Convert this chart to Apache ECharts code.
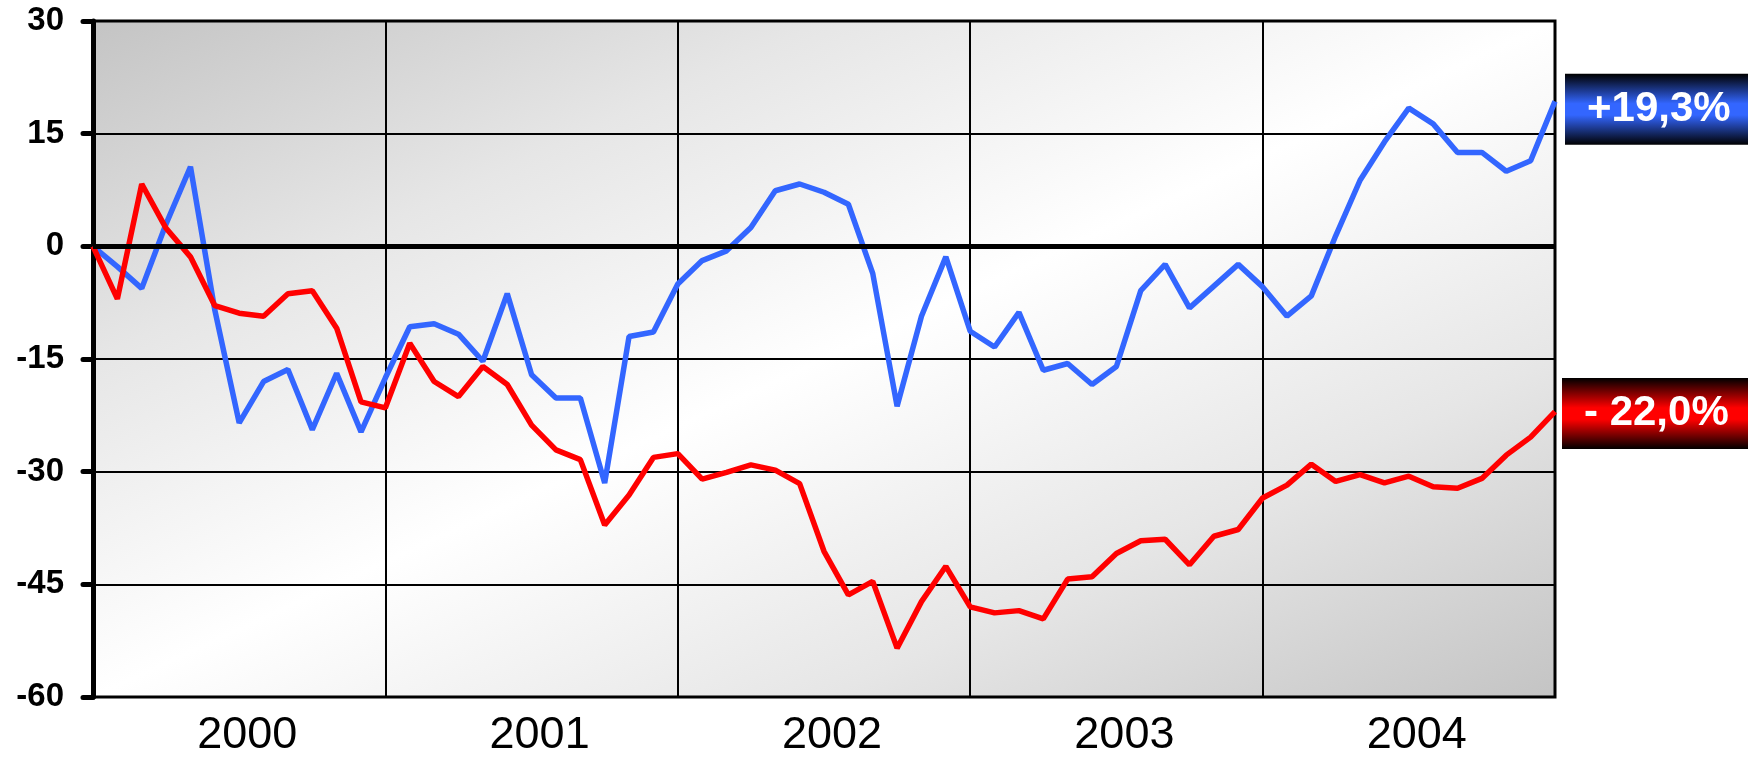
<!DOCTYPE html>
<html>
<head>
<meta charset="utf-8">
<script src="https://cdn.jsdelivr.net/npm/echarts@6/dist/echarts.min.js"></script>
<style>
  html, body { margin: 0; padding: 0; background: #ffffff; }
  #chart { width: 1748px; height: 761px; }
</style>
</head>
<body>
<div id="chart"></div>
<script>
// Monthly points, Dec 1999 = 0 (cumulative % change)
const months = [
  '1999-12',
  '2000-01','2000-02','2000-03','2000-04','2000-05','2000-06','2000-07','2000-08','2000-09','2000-10','2000-11','2000-12',
  '2001-01','2001-02','2001-03','2001-04','2001-05','2001-06','2001-07','2001-08','2001-09','2001-10','2001-11','2001-12',
  '2002-01','2002-02','2002-03','2002-04','2002-05','2002-06','2002-07','2002-08','2002-09','2002-10','2002-11','2002-12',
  '2003-01','2003-02','2003-03','2003-04','2003-05','2003-06','2003-07','2003-08','2003-09','2003-10','2003-11','2003-12',
  '2004-01','2004-02','2004-03','2004-04','2004-05','2004-06','2004-07','2004-08','2004-09','2004-10','2004-11','2004-12'
];

const yearLabels = ['2000', '2001', '2002', '2003', '2004'];

const blueSeries = [
  0, -2.7, -5.6, 3.0, 10.6, -8.5, -23.5, -18.0, -16.4, -24.4, -16.9, -24.7, -17.5,
  -10.7, -10.3, -11.7, -15.3, -6.3, -17.1, -20.2, -20.2, -31.5, -12.0, -11.4, -5.0,
  -1.9, -0.6, 2.5, 7.4, 8.3, 7.2, 5.6, -3.6, -21.3, -9.3, -1.4, -11.3,
  -13.4, -8.8, -16.5, -15.6, -18.4, -16.0, -5.9, -2.4, -8.2, -5.3, -2.4, -5.4,
  -9.3, -6.6, 1.4, 8.8, 13.9, 18.4, 16.3, 12.5, 12.5, 10.0, 11.4, 19.3
];

const redSeries = [
  0, -7.0, 8.3, 2.4, -1.4, -7.9, -8.9, -9.3, -6.3, -5.9, -10.9, -20.7, -21.5,
  -12.9, -18.0, -20.0, -16.0, -18.4, -23.8, -27.1, -28.4, -37.1, -33.1, -28.1, -27.6,
  -31.0, -30.1, -29.1, -29.8, -31.6, -40.6, -46.4, -44.6, -53.5, -47.3, -42.6, -48.0,
  -48.8, -48.5, -49.6, -44.3, -44.0, -40.9, -39.2, -39.0, -42.4, -38.6, -37.7, -33.5,
  -31.8, -29.0, -31.3, -30.4, -31.5, -30.6, -32.0, -32.2, -30.9, -27.8, -25.4, -22.0
];

const chart = echarts.init(document.getElementById('chart'), null, { renderer: 'canvas' });

// plot box (pixels)
const G = { left: 93, right: 193, top: 21, bottom: 64 };
const W = 1748, H = 761;
const px0 = G.left, px1 = W - G.right, py0 = G.top, py1 = H - G.bottom;

// diagonal grey -> white -> grey shading, white band along the anti-diagonal
function plotShade() {
  const cx = (px0 + px1) / 2, cy = (py0 + py1) / 2;
  const w = px1 - px0, h = py1 - py0;
  const len = Math.hypot(w, h);
  const dx = h / len, dy = w / len;
  const half = (w / 2) * dx + (h / 2) * dy;
  return new echarts.graphic.LinearGradient(
    cx - half * dx, cy - half * dy, cx + half * dx, cy + half * dy,
    [
      { offset: 0, color: '#c4c4c4' },
      { offset: 0.25, color: '#e6e6e6' },
      { offset: 0.5, color: '#ffffff' },
      { offset: 0.75, color: '#e6e6e6' },
      { offset: 1, color: '#c4c4c4' }
    ],
    true
  );
}

function badgeFill(mid) {
  return new echarts.graphic.LinearGradient(0, 0, 0, 1, [
    { offset: 0, color: '#000000' },
    { offset: 0.42, color: mid },
    { offset: 0.58, color: mid },
    { offset: 1, color: '#000000' }
  ]);
}

function pctText(v) {
  const s = Math.abs(v).toFixed(1).replace('.', ',') + '%';
  return v >= 0 ? '+' + s : '- ' + s;
}

function badge(mid, offset) {
  return {
    show: true,
    formatter: p => pctText(p.value),
    color: '#ffffff',
    fontFamily: 'Liberation Sans, Arial, sans-serif',
    fontSize: 42,
    fontWeight: 'bold',
    backgroundColor: badgeFill(mid),
    lineHeight: 71,
    width: 170,
    align: 'left',
    padding: [0, 20, 0, 22],
    distance: 8,
    offset: offset
  };
}

chart.setOption({
  animation: false,
  backgroundColor: '#ffffff',
  grid: {
    show: true,
    left: G.left, right: G.right, top: G.top, bottom: G.bottom,
    backgroundColor: plotShade(),
    borderColor: '#000000',
    borderWidth: 3
  },
  xAxis: {
    type: 'category',
    data: months,
    boundaryGap: false,
    axisLine: { show: false },
    axisTick: { show: false },
    axisLabel: {
      interval: (i) => i % 12 === 6,
      formatter: (v, i) => yearLabels[Math.floor(i / 12)] || '',
      color: '#000000',
      fontFamily: 'Liberation Sans, Arial, sans-serif',
      fontSize: 45,
      margin: 16,
      padding: [0, 0, 0, 16]
    },
    splitLine: {
      show: true,
      interval: (i) => i % 12 === 0,
      lineStyle: { color: '#000000', width: 2 }
    }
  },
  yAxis: {
    type: 'value',
    min: -60,
    max: 30,
    interval: 15,
    axisLine: { show: true, lineStyle: { color: '#000000', width: 5 } },
    axisTick: { show: true, length: 10, lineStyle: { color: '#000000', width: 5, cap: 'round' } },
    axisLabel: {
      color: '#000000',
      fontFamily: 'Liberation Sans, Arial, sans-serif',
      fontSize: 33,
      fontWeight: 'bold',
      margin: 29
    },
    splitLine: { show: true, lineStyle: { color: '#000000', width: 2 } }
  },
  series: [
    {
      // heavy zero reference line, beneath the data lines
      type: 'line',
      data: [],
      z: 1,
      silent: true,
      markLine: {
        silent: true,
        symbol: ['none', 'none'],
        label: { show: false },
        lineStyle: { color: '#000000', width: 5, type: 'solid' },
        data: [{ yAxis: 0 }]
      }
    },
    {
      name: 'blue',
      type: 'line',
      data: blueSeries,
      symbol: 'none',
      z: 3,
      lineStyle: { color: '#3366ff', width: 5.5 },
      endLabel: badge('#3366ff', [2, 8])
    },
    {
      name: 'red',
      type: 'line',
      data: redSeries,
      symbol: 'none',
      z: 4,
      lineStyle: { color: '#ff0000', width: 5.5 },
      endLabel: badge('#ff0000', [-1, 2])
    }
  ]
});
</script>
</body>
</html>
